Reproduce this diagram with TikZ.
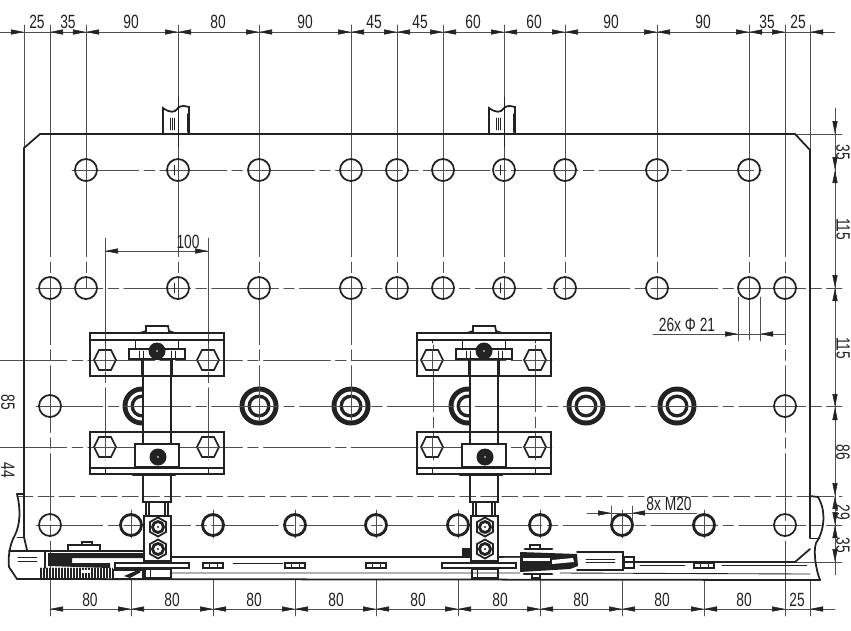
\documentclass[tikz,border=0pt]{standalone}
\usepackage{fontspec}
\usetikzlibrary{arrows.meta}
\newfontfamily\dimfont[FakeStretch=0.72]{Liberation Sans}
\definecolor{ink}{HTML}{222222}
\definecolor{thin}{HTML}{505050}
\tikzset{
  outline/.style={draw=ink,line width=1pt},
  heavy/.style={draw=ink,line width=1.6pt},
  detail/.style={draw=ink,line width=.5pt},
  thinline/.style={draw=thin,line width=.5pt},
  centerline/.style={thinline,dash pattern=on 38pt off 3pt on 6pt off 3pt},
  hidden/.style={thinline,dash pattern=on 9pt off 3pt},
  dimtip/.style={draw=ink,line width=.3pt,-{Triangle[length=7.4pt,width=2.9pt]}},
  dimtext/.style={font=\dimfont\fontsize{10.9}{12}\selectfont,text=ink,inner sep=0pt},
}
\begin{document}
\begin{tikzpicture}[x=0.02cm,y=-0.02cm,cap=round]
    \useasboundingbox (0,0) rectangle (851,630);

    % draw the large rings of the third row
    \foreach \x in {142,259,351,468,586,677} {
      \fill[ink] (\x,406) circle(19.5);
      \fill[white] (\x,406) circle(14.5);
      \fill[ink] (\x,406) circle(11.5);
      \fill[white] (\x,406) circle(8);
    }
    % clear the columns that stand in front of the rings
    \foreach \dx in {0,327}
      \fill[white] (143+\dx,359) rectangle (171+\dx,444);

    % draw the vertical lines, solid above and broken below
    \foreach \x/\yend in {86/288,178/298,259/420,351/420,397/298,443/298,504/298,565/298,657/298,749/340} {
      \draw[thinline] (\x,25) -- (\x,190);
      \draw[centerline] (\x,190) -- (\x,\yend);
    }
    \draw[thinline] (24,25) -- (24,148) (810,25) -- (810,150) (810,580) -- (810,616);
    \foreach \x in {50,785} {
      \draw[thinline] (\x,25) -- (\x,190) (\x,580) -- (\x,616);
      \draw[centerline] (\x,190) -- (\x,580);
    }
    \foreach \x in {131,213,295,376,458,540,622,704} {
      \draw[thinline] (\x,510) -- (\x,538) (\x,580) -- (\x,616);
    }
    \foreach \x in {105,208} \draw[thinline] (\x,238) -- (\x,300);
    \draw[centerline] (105,300) -- (105,460);
    \draw[centerline] (208,300) -- (208,460);
    \draw[centerline] (433,345) -- (433,460);
    \draw[centerline] (535,345) -- (535,460);

    % draw the horizontal lines
    \draw[centerline] (72,170) -- (762,170);
    \foreach \y in {288,406,525} \draw[centerline] (36,\y) -- (842,\y);
    \draw[centerline] (0,360) -- (552,360);
    \draw[centerline] (0,447) -- (552,447);
    \draw[hidden] (17,496) -- (842,496);
    \draw[thinline] (795,134) -- (842,134) (795,562) -- (842,562);

    % draw the plate
    \draw[outline] (24,537) -- (24,148) -- (40,134) -- (795,134) -- (810,150) -- (810,538);
    \draw[outline] (17,494) -- (24,494);
    \draw[detail] (17,537) -- (24,537) (810,538) -- (820,538);
    \draw[outline] (24,537) -- (27,550);
    \draw[outline] (810,549) -- (795,562) -- (635,562);
    \draw[outline] (17,494) .. controls (21,510) and (20,525) .. (15,535)
      .. controls (9,545) and (8,560) .. (9,567) -- (17,579) -- (820,580);
    \draw[outline] (810,496) -- (818,497) .. controls (826,510) and (825,530) .. (816,543)
      .. controls (813,552) and (816,570) .. (820,580);
    \draw[outline] (9,551) -- (143,551);
    \draw[outline] (171,557) -- (520,557);
    \draw[detail] (170,573) -- (520,573) (560,573) -- (810,574);
    \draw[detail] (233,563) -- (283,563) (640,565) -- (685,565) (722,565) -- (807,565);

    % draw the two stubs on the top edge
    \foreach \dx in {0,326} {
      \draw[outline] (163+\dx,134) -- (163+\dx,108) .. controls (170+\dx,113) and (175+\dx,113) .. (178+\dx,108)
        .. controls (181+\dx,105) and (185+\dx,106) .. (189+\dx,107) -- (189+\dx,134);
      \draw[detail] (178+\dx,97) -- (178+\dx,147);
      \foreach \t in {170,172,174} \draw[detail] (\t+\dx,118) -- (\t+\dx,130);
      \draw[outline] (188+\dx,114) -- (188+\dx,132);
      \foreach \y in {170,288} \draw[detail] (174+\dx,\y-5) -- (174+\dx,\y+5);
    }

    % draw the holes
    \foreach \x in {86,178,259,351,397,443,504,565,657,749}
      \draw[outline] (\x,170) circle(11);
    \foreach \x in {50,86,178,259,351,397,443,504,565,657,749,785}
      \draw[outline] (\x,288) circle(11);
    \foreach \x in {50,785} {
      \draw[outline] (\x,406) circle(11);
      \draw[outline] (\x,525) circle(11);
    }
    \foreach \x in {131,213,295,376,458,540,622,704}
      \draw[heavy] (\x,525) circle(10.5);

    % draw the two brackets
    \foreach \dx in {0,327} {
    \begin{scope}[shift={(\dx,0)}]
      \draw[outline] (90,333) rectangle (224,376);
      \draw[outline] (90,340) -- (224,340);
      \draw[outline] (140,333) -- (146,331) -- (146,326) -- (168,326) -- (169,331) -- (175,333);
      \draw[detail] (135,340) -- (135,349) (178,340) -- (178,349);
      \draw[outline,fill=white] (129,349) rectangle (185,359);
      \foreach \t in {139,143,171,175} \draw[detail] (\t,351) -- (\t,358);
      \fill[ink] (157,351) circle(8.5);
      \draw[heavy] (142.5,359) -- (142.5,376) (171.5,359) -- (171.5,376);
      \draw[outline] (143,376) -- (143,444) (171,376) -- (171,444);
      \draw[outline] (90,432) rectangle (224,474);
      \draw[outline] (90,468) -- (224,468);
      \foreach \t in {105,208} \draw[detail] (\t,340) -- (\t,343) (\t,468) -- (\t,474);
      \draw[outline,fill=white] (135,444) rectangle (179,467);
      \fill[ink] (158,457) circle(8.5);
      \fill[white] (158,457) circle(.8);
      \fill[white] (157,351) circle(.8);
      \draw[heavy] (133,475) -- (175,475);
      \draw[outline] (143,475) rectangle (171,502);
      \draw[outline] (146,502) -- (146,516) (168,502) -- (168,516) (149,502) -- (149,516) (165,502) -- (165,516);
      \draw[outline,fill=white] (144,516) rectangle (171,561);
      \foreach \y in {527,549} {
        \draw[outline] (158,\y-9.5) -- (166,\y-5) -- (166,\y+5) -- (158,\y+9.5) -- (150,\y+5) -- (150,\y-5) -- cycle;
        \draw[heavy] (158,\y) circle(5.5);
        \fill[ink] (158,\y) circle(1.2);
      }
      % hexagon bolts with their crosses
      \foreach \x/\y in {105/360,208/360,105/447,208/447} {
        \draw[outline,fill=white] (\x-11,\y) -- (\x-6,\y-10) -- (\x+6,\y-10) -- (\x+11,\y) -- (\x+6,\y+10) -- (\x-6,\y+10) -- cycle;
        \draw[thinline] (\x-11,\y) -- (\x+11,\y) (\x,\y-10) -- (\x,\y+10);
      }
      % lower part on the strip
      \draw[outline] (115,563) -- (189,563) -- (189,568) -- (115,568) -- cycle;
      \draw[outline] (145,569) rectangle (171,578);
      \draw[detail] (150,570) -- (150,577);
    \end{scope}
    }

    % draw the washers on the strip
    \foreach \x in {213,295,376,704} {
      \draw[outline] (\x-10,563) rectangle (\x+10,568);
      \draw[detail] (\x-4,563) -- (\x-4,568) (\x+4,563) -- (\x+4,568);
    }

    % draw the left clamp
    \draw[outline] (68,551) -- (68,545) -- (100,545) -- (100,551);
    \draw[outline] (82,545) -- (82,542) -- (92,542) -- (92,545);
    \draw[detail] (18,557) -- (37,557) (18,561) -- (37,561);
    \draw[outline] (45,551) -- (45,568);
    \foreach \x in {40,41.5,...,112} \draw[outline,line width=.55pt] (\x,568) -- (\x,578);
    \fill[white] (82,570) rectangle (90,573);
    \fill[ink] (48,553) -- (73,553) -- (143,553) -- (143,558) -- (72,558) -- (72,563) -- (110,563) -- (110,568) -- (48,566) -- cycle;
    \draw[outline] (113,570) rectangle (143,579);
    \fill[ink] (124,576) -- (138,570) -- (141,572) -- (130,578) -- cycle;

    % draw the right clamp
    \draw[outline] (577,552) -- (623,552) -- (623,570) -- (577,570);
    \draw[detail] (586,559) -- (615,559) (586,562) -- (615,562);
    \draw[outline] (624,557) rectangle (634,568);
    \draw[outline] (624,562) -- (634,562);
    \fill[ink] (520,552) -- (577,554) -- (578,566) -- (570,569) -- (520,572) -- cycle;
    \fill[white] (523,558) rectangle (550,561);
    \fill[white] (552,560) -- (573,558) -- (574,562) -- (552,564) -- cycle;
    \draw[heavy] (525,549) -- (552,549) (524,574) -- (552,574);
    \draw[outline] (530,549) -- (530,545) -- (540,545) -- (540,549);
    \draw[outline] (532,575) -- (532,578) -- (540,578) -- (540,575);
    \fill[ink] (462,548) rectangle (471,557);
    \draw[thinline] (504,557) -- (520,557);

    % draw the dimension line along the top
    \draw[thinline] (0,32) -- (835,32);
    \foreach \x in {86,178,259,351,397,443,504,565,657,749} {
      \draw[dimtip] (\x-13,32) -- (\x,32);
      \draw[dimtip] (\x+13,32) -- (\x,32);
    }
    \draw[dimtip] (11,32) -- (24,32);
    \draw[dimtip] (63,32) -- (50,32);
    \draw[dimtip] (772,32) -- (785,32);
    \draw[dimtip] (823,32) -- (810,32);
    \foreach \x/\xtext in {37/25,68/35,131/90,218/80,305/90,374/45,420/45,473/60,534/60,611/90,703/90,767/35,798/25}
      \node[dimtext] (top\x) at (\x,22) {\xtext};

    % draw the dimension line along the bottom
    \draw[thinline] (50,609) -- (835,609);
    \foreach \x in {131,213,295,376,458,540,622,704} {
      \draw[dimtip] (\x-13,609) -- (\x,609);
      \draw[dimtip] (\x+13,609) -- (\x,609);
    }
    \draw[dimtip] (63,609) -- (50,609);
    \draw[dimtip] (772,609) -- (785,609);
    \draw[dimtip] (823,609) -- (810,609);
    \foreach \x/\xtext in {90/80,172/80,254/80,336/80,418/80,500/80,581/80,662/80,744/80,797/25}
      \node[dimtext] (bot\x) at (\x,600) {\xtext};

    % draw the dimension line on the right
    \draw[thinline] (835,108) -- (835,575);
    \foreach \y in {170,288,407,496,525} {
      \draw[dimtip] (835,\y-13) -- (835,\y);
      \draw[dimtip] (835,\y+13) -- (835,\y);
    }
    \draw[dimtip] (835,121) -- (835,134);
    \draw[dimtip] (835,549) -- (835,562);
    \foreach \y/\ytext in {152/35,229/115,348/115,452/86,512/29,545/35}
      \node[dimtext,rotate=-90] (right\y) at (843,\y) {\ytext};

    % the two labels at the left edge
    \node[dimtext,rotate=-90] (leftA) at (8,402) {85};
    \node[dimtext,rotate=-90] (leftB) at (8,470) {44};

    % the width of the bracket
    \draw[thinline] (105,251) -- (208,251);
    \draw[dimtip] (118,251) -- (105,251);
    \draw[dimtip] (195,251) -- (208,251);
    \node[dimtext] (bracketwidth) at (188,242) {100};

    % the two leaders for the holes
    \draw[thinline] (653,334) -- (785,334);
    \draw[thinline] (738,297) -- (738,341) (760,297) -- (760,341);
    \draw[dimtip] (725,334) -- (738,334);
    \draw[dimtip] (773,334) -- (760,334);
    \node[dimtext] (holelabel) at (687,325) {26x Φ 21};
    \draw[thinline] (587,513) -- (697,513);
    \draw[thinline] (611,506) -- (611,520) (632,506) -- (632,520);
    \draw[dimtip] (598,513) -- (611,513);
    \draw[dimtip] (645,513) -- (632,513);
    \node[dimtext] (threadlabel) at (669,504) {8x M20};
  \end{tikzpicture}
\end{document}
